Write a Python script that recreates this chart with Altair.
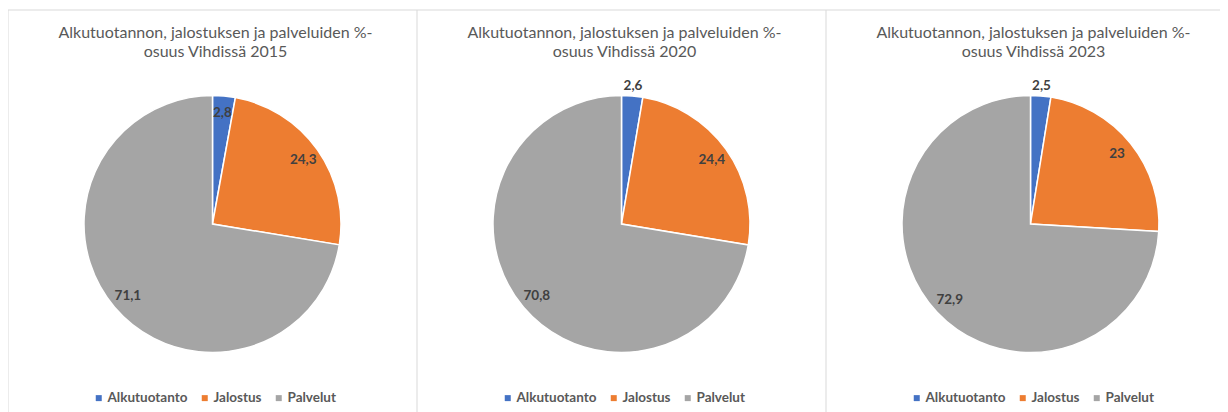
import json
import altair as alt
import pandas as pd

# ---- data ----
years = ["2015", "2020", "2023"]
categories = ["Alkutuotanto", "Jalostus", "Palvelut"]
alkutuotanto = [2.8, 2.6, 2.5]
jalostus = [24.3, 24.4, 23.0]
palvelut = [71.1, 70.8, 72.9]
title_line1 = "Alkutuotannon, jalostuksen ja palveluiden %-"
title_line2 = "osuus Vihdissä"
colors = ["#4472C4", "#ED7D31", "#A5A5A5"]

rows = []
for i, yr in enumerate(years):
    for j, (c, vals) in enumerate(zip(categories, [alkutuotanto, jalostus, palvelut])):
        rows.append({"year": yr, "cat": c, "order": j, "value": vals[i]})
df = pd.DataFrame(rows)
titles = pd.DataFrame({"year": years,
                       "title": [f"{title_line1}\n{title_line2} {yr}" for yr in years]})
yrs = pd.DataFrame({"year": years})

# ---- layout ----
PANEL_W = 409
W, H = 1212, 404
CY = 216
R = 128.5
FONT = "Lato"

IDX = f"indexof({json.dumps(years)}, datum.year)"
xscale = alt.Scale(domain=[0, W / PANEL_W], nice=False, zero=False)


def Xc():
    return alt.X("cx:Q", scale=xscale, axis=None, stack=False)


base = (
    alt.Chart(df)
    .transform_window(cum="sum(value)", frame=[None, 0], groupby=["year"],
                      sort=[alt.SortField("order")])
    .transform_joinaggregate(total="sum(value)", groupby=["year"])
    .transform_calculate(cx=f"{IDX} + 0.5")
    .transform_calculate(t0="(datum.cum - datum.value) / datum.total * 2 * PI")
    .transform_calculate(t1="datum.cum / datum.total * 2 * PI")
    .transform_calculate(mid="(datum.cum - datum.value / 2) / datum.total * 2 * PI")
    .transform_calculate(lr="datum.value < 2.7 ? 138 : 111")
    .transform_calculate(label="replace(format(datum.value, '.1~f'), '.', ',')")
)

arcs = []
for i, yr in enumerate(years):
    arcs.append(
        base.transform_filter(alt.datum.year == yr)
        .mark_arc(radius=R, stroke="white", strokeWidth=1.5)
        .encode(
            x=Xc(),
            y=alt.value(CY),
            theta=alt.Theta("t0:Q", scale=None, stack=False),
            theta2="t1:Q",
            color=alt.Color(
                "cat:N",
                sort=categories,
                scale=alt.Scale(domain=categories, range=colors),
                legend=alt.Legend(
                    orient="none", legendX=i * PANEL_W + 84, legendY=383,
                    direction="horizontal", title=None, symbolType="square",
                    symbolSize=36, symbolStrokeWidth=0, labelFont=FONT,
                    labelFontSize=13.5, labelFontWeight="bold", labelColor="#595959",
                    columnPadding=10, labelOffset=2, padding=0,
                ),
            ),
        )
    )

labels = base.mark_text(
    font=FONT, fontWeight="bold", fontSize=13.5, color="#404040",
    align="center", baseline="middle",
).encode(
    x=Xc(),
    y=alt.value(CY),
    theta=alt.Theta("mid:Q", scale=None, stack=False),
    radius=alt.Radius("lr:Q", scale=None),
    text="label:N",
)

title_text = alt.Chart(titles).transform_calculate(cx=f"{IDX} + 0.5").mark_text(
    font=FONT, fontSize=16, color="#595959", lineBreak="\n", lineHeight=19.5,
    align="center", baseline="alphabetic", dx=3,
).encode(x=Xc(), y=alt.value(29.5), text="title:N")

borders = alt.Chart(yrs).transform_calculate(bx=IDX).mark_rule(
    color="#D9D9D9", strokeWidth=1
).encode(
    x=alt.X("bx:Q", scale=xscale, axis=None, stack=False), y=alt.value(2), y2=alt.value(H)
)
top_line = alt.Chart(yrs.head(1)).mark_rule(color="#D9D9D9", strokeWidth=1).encode(
    x=alt.value(0), x2=alt.value(W), y=alt.value(2)
)

chart = (
    alt.layer(borders, top_line, *arcs, labels, title_text)
    .resolve_scale(color="independent")
    .properties(width=W, height=H, autosize=alt.AutoSizeParams(type="none"), padding=0,
                background="white")
    .configure_view(strokeWidth=0)
)

chart.save("out.html", embed_options={"renderer": "svg", "actions": False})
